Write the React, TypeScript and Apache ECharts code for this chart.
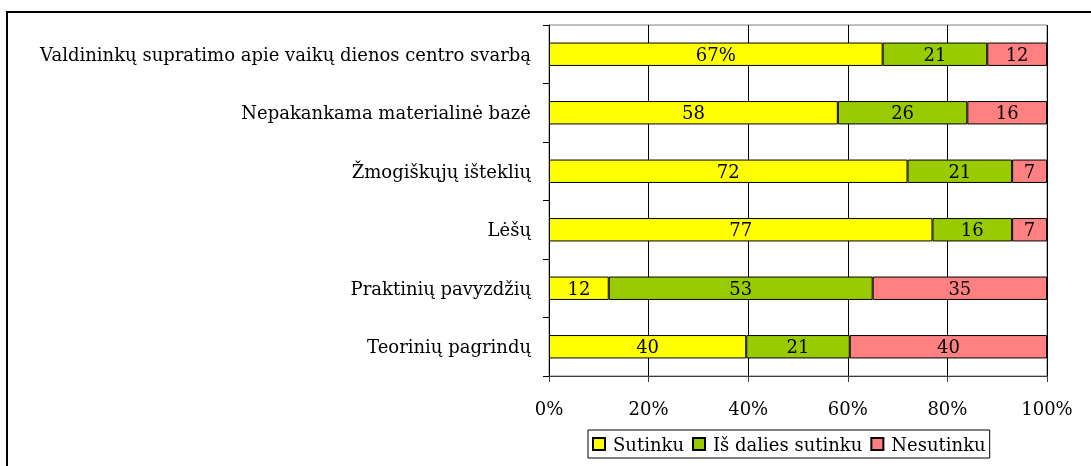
import React, { useEffect, useRef } from "react";
import * as echarts from "echarts";

const categories = [
  "Valdininkų supratimo apie vaikų dienos centro svarbą",
  "Nepakankama materialinė bazė",
  "Žmogiškųjų išteklių",
  "Lėšų",
  "Praktinių pavyzdžių",
  "Teorinių pagrindų",
];
const sutinku = [67, 58, 72, 77, 12, 40];
const isDaliesSutinku = [21, 26, 21, 16, 53, 21];
const nesutinku = [12, 16, 7, 7, 35, 40];
const seriesNames = ["Sutinku", "Iš dalies sutinku", "Nesutinku"];
const seriesColors = ["#FFFF00", "#99CC00", "#FF8080"];
const xTicks = [0, 20, 40, 60, 80, 100];

const FONT = "DejaVu Serif";
const FS = 18;

export default function App() {
  const ref = useRef<HTMLDivElement>(null);
  useEffect(() => {
    document.body.style.margin = "0";
    const chart = echarts.init(ref.current!, null, { renderer: "svg" });
    const raw = [sutinku, isDaliesSutinku, nesutinku];
    const totals = categories.map((_, i) => raw[0][i] + raw[1][i] + raw[2][i]);
    const series = raw.map((arr, si) => ({
      name: seriesNames[si],
      type: "bar",
      stack: "total",
      barCategoryGap: "60%",
      itemStyle: { color: seriesColors[si], borderColor: "#000", borderWidth: 1 },
      label: {
        show: true,
        position: "inside",
        color: "#000",
        fontFamily: FONT,
        fontSize: FS,
        formatter: (p: any) => (si === 0 && p.dataIndex === 0 ? p.data.raw + "%" : String(p.data.raw)),
      },
      data: arr.map((v, i) => ({ value: (v / totals[i]) * 100, raw: v })),
    }));
    chart.setOption({
      animation: false,
      graphic: [
        {
          type: "rect",
          shape: { x: 7, y: 12, width: 1200, height: 600 },
          style: { fill: "none", stroke: "#000", lineWidth: 2 },
          silent: true,
        },
      ],
      grid: {
        left: 549,
        right: 44,
        top: 25,
        bottom: 90,
        show: true,
        borderColor: "#808080",
        borderWidth: 1,
        containLabel: false,
      },
      legend: {
        left: 588,
        top: 430,
        itemWidth: 12,
        itemHeight: 12,
        itemGap: 8,
        padding: [5, 4, 5, 4],
        borderColor: "#000",
        borderWidth: 1,
        icon: "rect",
        textStyle: { fontFamily: FONT, fontSize: FS, color: "#000", padding: [0, 0, 0, 3] },
        data: seriesNames,
      },
      xAxis: {
        type: "value",
        min: 0,
        max: 100,
        interval: 20,
        axisLine: { show: true, lineStyle: { color: "#404040" } },
        axisTick: { show: true, length: 6, inside: false, lineStyle: { color: "#404040" } },
        splitLine: { show: true, lineStyle: { color: "#000", width: 1 } },
        axisLabel: {
          margin: 23,
          color: "#000",
          fontFamily: FONT,
          fontSize: FS,
          formatter: (v: number) => (xTicks.includes(v) ? v + "%" : ""),
        },
      },
      yAxis: {
        type: "category",
        inverse: true,
        data: categories,
        axisLine: { show: true, lineStyle: { color: "#000" } },
        axisTick: { show: true, length: 6, inside: false, lineStyle: { color: "#000" } },
        axisLabel: { margin: 18, color: "#000", fontFamily: FONT, fontSize: FS },
      },
      series,
    });
    return () => chart.dispose();
  }, []);
  return <div ref={ref} style={{ position: "fixed", left: 0, top: 0, width: 1091, height: 466 }} />;
}
